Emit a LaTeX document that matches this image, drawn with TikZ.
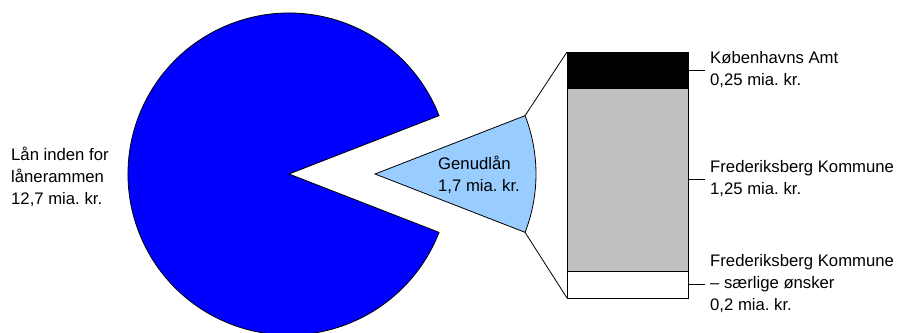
\documentclass[tikz,border=0pt]{standalone}
\usepackage{fontspec}
\setmainfont{Liberation Sans}
\frenchspacing
\begin{document}
\begin{tikzpicture}[x=1pt,y=1pt,
  edge/.style={draw=black,line width=0.8pt},
  lbl/.style={inner xsep=5pt,inner ysep=0pt,anchor=west,align=left,font=\fontsize{16.7}{22}\selectfont},
  seg/.style={edge}]
\definecolor{bigblue}{HTML}{0000FF}
\definecolor{lightblue}{HTML}{99CCFF}
\definecolor{bargray}{HTML}{C0C0C0}
\useasboundingbox (0,0) rectangle (901,332);
\fill[white] (0,0) rectangle (901,332);
% big pie
\coordinate (bc) at (289,158);
\draw[edge,fill=bigblue] (bc) -- ++(21.25:161pt) arc[start angle=21.25,end angle=338.75,radius=161pt] -- cycle;
% small pie
\coordinate (sc) at (375,158);
\draw[edge,fill=lightblue] (sc) -- ++(-21.25:161pt) coordinate (slo) arc[start angle=-21.25,end angle=21.25,radius=161pt] coordinate (sup) -- cycle;
% bar
\coordinate (btl) at (567,280);
\coordinate (bbl) at (567,34);
\draw[seg,fill=black] (567,244) rectangle (688,280);
\draw[seg,fill=bargray] (567,61) rectangle (688,244);
\draw[seg,fill=white] (567,34) rectangle (688,61);
% connectors
\draw[edge] (sup) -- (btl);
\draw[edge] (slo) -- (bbl);
% labels
\node[lbl,inner xsep=0pt] (lan) at (11,155) {Lån inden for\\lånerammen\\12,7 mia. kr.};
\node[lbl,inner xsep=0pt] (gen) at (438,157) {Genudlån\\1,7 mia. kr.};
\coordinate (r1) at (688,262);
\coordinate (r2) at (688,153);
\coordinate (r3) at (688,48);
\node[lbl] (l1) at (705,262) {Københavns Amt\\0,25 mia. kr.};
\node[lbl] (l2) at (705,153) {Frederiksberg Kommune\\1,25 mia. kr.};
\node[lbl] (l3) at (705,48) {Frederiksberg Kommune\\– særlige ønsker\\0,2 mia. kr.};
\draw[edge] (r1) -- (l1.west);
\draw[edge] (r2) -- (l2.west);
\draw[edge] (r3) -- (l3.west);
\end{tikzpicture}
\end{document}
